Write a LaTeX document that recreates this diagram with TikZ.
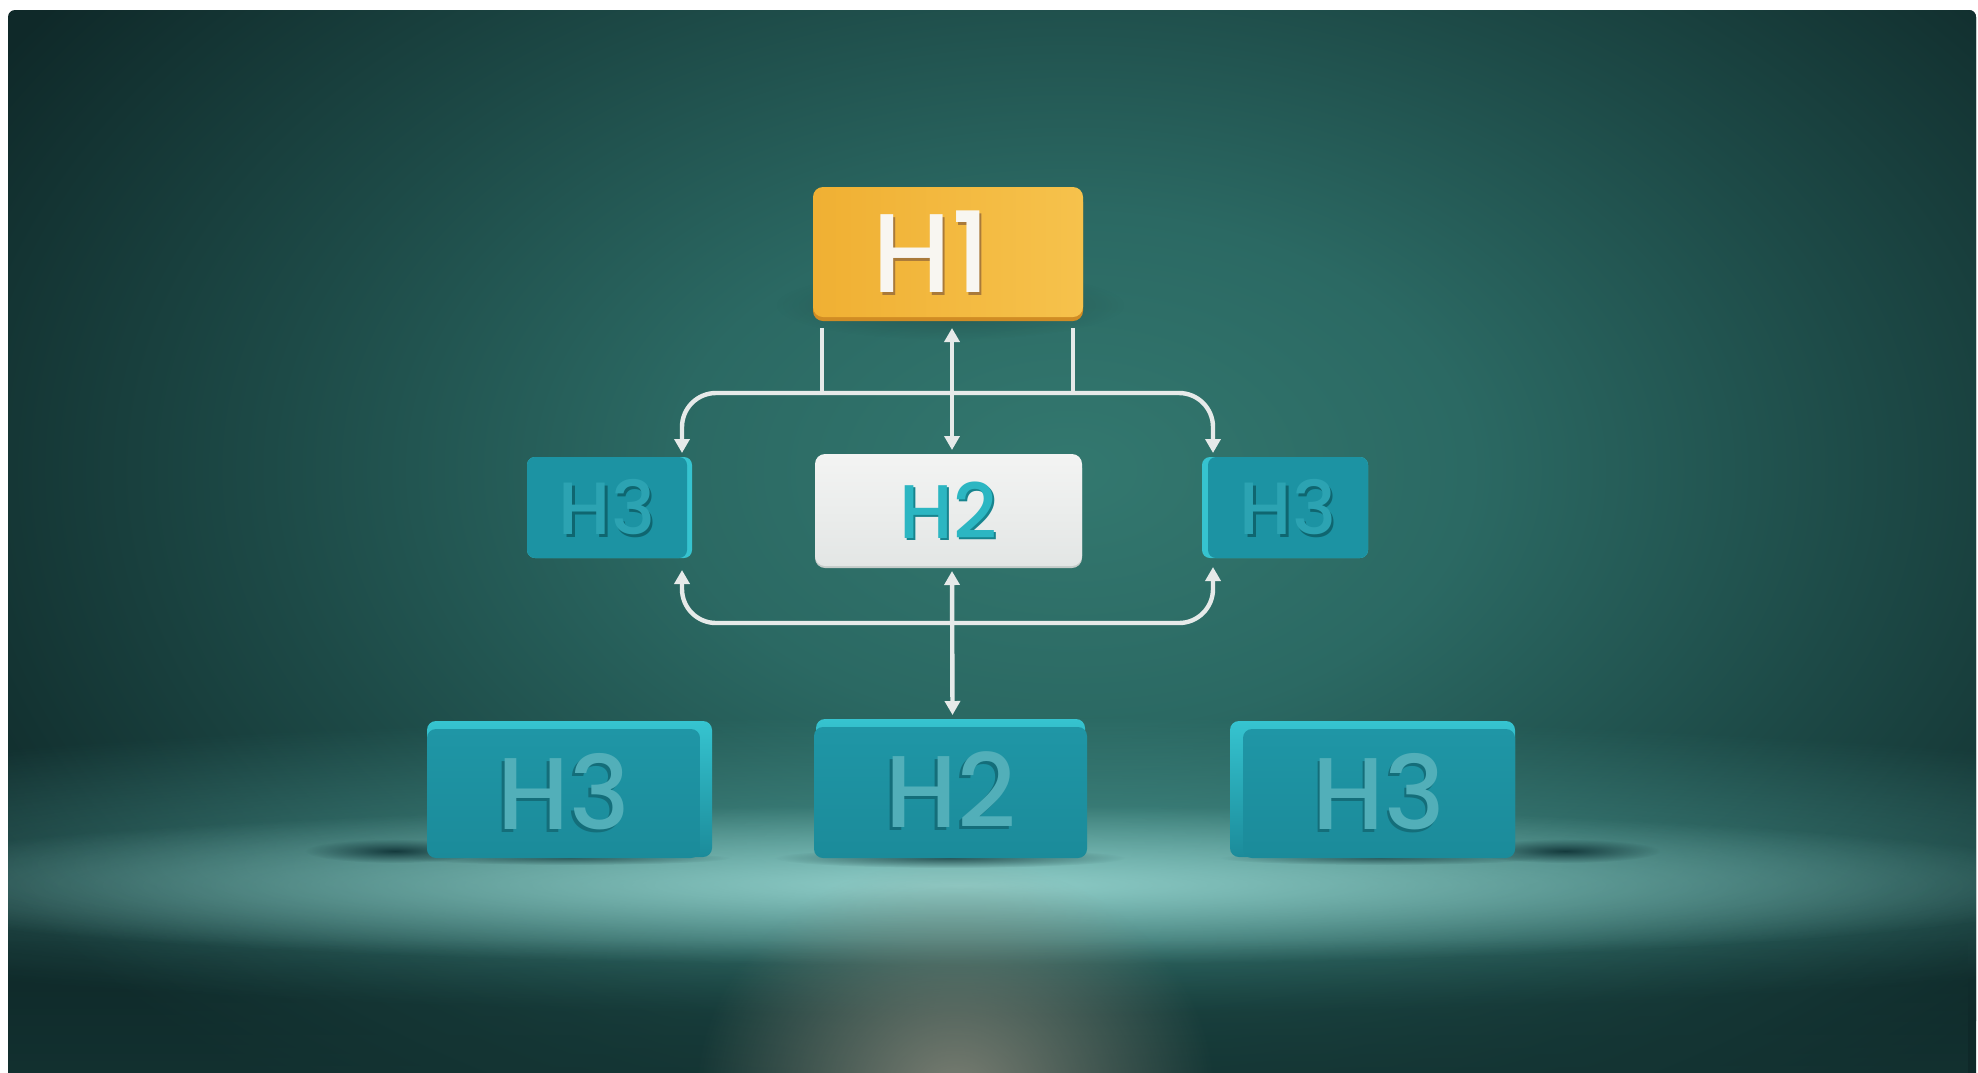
\documentclass[tikz,border=0pt]{standalone}
\usepackage{fontspec}
\newfontfamily\hfont{Poppins Medium}
\usetikzlibrary{arrows.meta,fadings,calc}

% palette
\definecolor{bgdark}{HTML}{0F2929}
\definecolor{wallA}{HTML}{33786F}
\definecolor{wallB}{HTML}{2B6963}
\definecolor{wallC}{HTML}{1D4A47}
\definecolor{wallD}{HTML}{0F2929}
\definecolor{floorA}{HTML}{4E9C96}
\definecolor{floorB}{HTML}{98D5D0}
\definecolor{floorlow}{HTML}{143433}
\definecolor{spotc}{HTML}{86877A}
\definecolor{shadowc}{HTML}{0A2C30}
\definecolor{linecol}{HTML}{E6EAE9}
\definecolor{h1a}{HTML}{F0B033}
\definecolor{h1b}{HTML}{F6C24C}
\definecolor{h1under}{HTML}{D08C24}
\definecolor{h1txt}{HTML}{F8F6F1}
\definecolor{h1shd}{HTML}{A97A3A}
\definecolor{h2a}{HTML}{F3F4F3}
\definecolor{h2b}{HTML}{E3E6E5}
\definecolor{h2under}{HTML}{C4CBC9}
\definecolor{h2txt}{HTML}{2CB6C2}
\definecolor{h2shd}{HTML}{17848E}
\definecolor{smallbox}{HTML}{1C93A3}
\definecolor{smalledge}{HTML}{36C3CF}
\definecolor{smalltxt}{HTML}{2CA3B2}
\definecolor{smallshd}{HTML}{0F6670}
\definecolor{blockfront}{HTML}{1F96A6}
\definecolor{blockfrontb}{HTML}{1B8B9A}
\definecolor{blocktop}{HTML}{36C4D0}
\definecolor{blocktxt}{HTML}{52AFB9}
\definecolor{blockshd}{HTML}{146E7A}

\pgfdeclareradialshading{wall}{\pgfpoint{0bp}{0bp}}{%
  color(0bp)=(wallA); color(8bp)=(wallB); color(16bp)=(wallC);
  color(25bp)=(wallD); color(50bp)=(wallD)}

\tikzfading[name=spot, inner color=transparent!0, outer color=transparent!100]
\tikzfading[name=fadeup, top color=transparent!100, bottom color=transparent!0]

% text with an offset shadow behind it: shadow colour, text colour, dx, dy, text
\newcommand\emb[5]{\rlap{\kern#3\smash{\raisebox{#4}{\textcolor{#1}{#5}}}}\textcolor{#2}{#5}}

\begin{document}
\begin{tikzpicture}[x=1pt,y=-1pt,
  wire/.style={draw=linecol, line width=4.4pt},
  biarrow/.style={wire, {Triangle[width=15pt,length=14pt]}-{Triangle[width=15pt,length=14pt]}},
  card/.style={rectangle, rounded corners=10pt, inner sep=0pt, outer sep=0pt},
  bigtxt/.style={font=\hfont\fontsize{112}{112}\selectfont},
  midtxt/.style={font=\hfont\fontsize{76}{76}\selectfont},
  smalltxtf/.style={font=\hfont\fontsize{74}{74}\selectfont},
  blocktxtf/.style={font=\hfont\fontsize{102}{102}\selectfont}]
\useasboundingbox (0,0) rectangle (1978,1072);
\fill[white] (0,0) rectangle (1978,1072);

\begin{scope}
  \clip[rounded corners=7pt] (8,10) rectangle (1976,1110);
  % wall with vignette
  \fill[bgdark] (0,0) rectangle (1978,1110);
  \path[shading=wall] (1070,470) ellipse (1250 and 800);
  % floor light
  \fill[floorA, opacity=.75, path fading=spot] (980,865) ellipse (1550 and 150);
  \fill[floorB, opacity=.9, path fading=spot] (960,885) ellipse (1150 and 80);
  % darker foreground
  \fill[floorlow, opacity=.9, path fading=fadeup] (0,940) rectangle (1978,1110);
  \fill[spotc, opacity=.9, path fading=spot] (955,1095) ellipse (260 and 235);
  % contact shadows of the blocks
  \fill[shadowc, opacity=.85, path fading=spot] (395,851) ellipse (90 and 12);
  \fill[shadowc, opacity=.85, path fading=spot] (1565,851) ellipse (95 and 12);
  \fill[shadowc, opacity=.7, path fading=spot] (950,858) ellipse (175 and 10);
  \fill[shadowc, opacity=.6, path fading=spot] (570,858) ellipse (160 and 7);
  \fill[shadowc, opacity=.6, path fading=spot] (1380,858) ellipse (160 and 7);
  % soft shadow under the top card
  \fill[black, opacity=.22, path fading=spot] (950,305) ellipse (175 and 35);
\end{scope}

% ---------- top card ----------
\fill[h1under, rounded corners=10pt] (813,192) rectangle (1083,321);
\node[card, left color=h1a, right color=h1b, minimum width=270pt, minimum height=130pt,
      bigtxt] (h1) at (948,252) {\emb{h1shd}{h1txt}{2pt}{-3pt}{H1}\kern32pt};

% ---------- middle row ----------
\fill[h2under, rounded corners=10pt] (815,458) rectangle (1082,568);
\node[card, top color=h2a, bottom color=h2b, minimum width=267pt, minimum height=112pt,
      midtxt] (h2) at (948.5,510) {\emb{h2shd}{h2txt}{2pt}{-2.5pt}{H2}};

\fill[smalledge, rounded corners=8pt] (527,457) rectangle (692,558);
\node[card, rounded corners=8pt, fill=smallbox, minimum width=160pt, minimum height=101pt,
      smalltxtf] (h3l) at (607,507.5) {\raisebox{-5pt}{\emb{smallshd}{smalltxt}{2.5pt}{-2.5pt}{H3}}};

\fill[smalledge, rounded corners=8pt] (1202,457) rectangle (1368,558);
\node[card, rounded corners=8pt, fill=smallbox, minimum width=160pt, minimum height=101pt,
      smalltxtf] (h3r) at (1288,507.5) {\raisebox{-5pt}{\emb{smallshd}{smalltxt}{2.5pt}{-2.5pt}{H3}}};

% ---------- bottom blocks ----------
\shade[rounded corners=9pt, top color=blocktop, bottom color=blockfrontb] (427,721) rectangle (712,857);
\node[card, rounded corners=9pt, top color=blockfront, bottom color=blockfrontb,
      minimum width=273pt, minimum height=129pt, blocktxtf]
      (b3l) at (563.5,793.5) {\raisebox{5pt}{\emb{blockshd}{blocktxt}{-2.5pt}{-3pt}{H3}}};

\shade[rounded corners=9pt, top color=blocktop, bottom color=blockfront] (816,719) rectangle (1085,800);
\node[card, rounded corners=9pt, top color=blockfront, bottom color=blockfrontb,
      minimum width=273pt, minimum height=131pt, blocktxtf]
      (b2) at (950.5,792.5) {\raisebox{5pt}{\emb{blockshd}{blocktxt}{-2.5pt}{-3pt}{H2}}};

\shade[rounded corners=9pt, top color=blocktop, bottom color=blockfrontb] (1230,721) rectangle (1515,857);
\node[card, rounded corners=9pt, top color=blockfront, bottom color=blockfrontb,
      minimum width=272pt, minimum height=129pt, blocktxtf]
      (b3r) at (1379,793.5) {\raisebox{5pt}{\emb{blockshd}{blocktxt}{-2.5pt}{-3pt}{H3}}};

% ---------- connectors ----------
\draw[wire] ($(h1.south west)+(9,11)$) -- ++(0,66);
\draw[wire] ($(h1.south east)+(-10,11)$) -- ++(0,66);
\draw[biarrow, rounded corners=34pt]
  ($(h3l.north east)+(-5,-4)$) |- ($(h1.south)+(0,76)$) -| ($(h3r.north west)+(5,-4)$);
\draw[biarrow] ($(h1.south)+(4,11)$) -- ($(h2.north)+(3.5,-4)$);
\draw[biarrow, rounded corners=34pt]
  ($(h3l.south east)+(-5,12)$) |- ($(h2.south)+(0,57)$) -| ($(h3r.south west)+(5,9)$);
\draw[biarrow] ($(h2.south)+(3.5,5)$) -- ($(b2.north)+(2,-12)$);
\end{tikzpicture}
\end{document}
